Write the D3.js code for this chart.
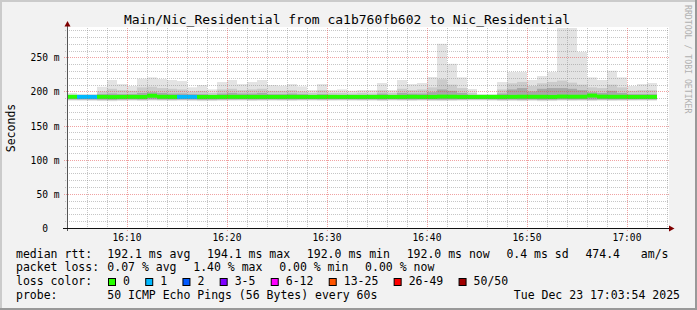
<!DOCTYPE html>
<html>
<head>
<meta charset="utf-8">
<script src="https://cdn.jsdelivr.net/npm/d3@7"></script>
<style>
body { margin: 0; background: #f2f2f2; }
svg text { font-family: "DejaVu Sans Mono", monospace; white-space: pre; }
</style>
</head>
<body>
<div id="chart"></div>
<script>
var title = "Main/Nic_Residential from ca1b760fb602 to Nic_Residential";
var startTime = new Date(2025, 11, 23, 16, 4, 0);
var endTime = new Date(2025, 11, 23, 17, 4, 0);

// one bin per minute, ms
var rttMax = [197.7,196.3,196.3,206.9,216.8,210.9,208.0,218.7,220.7,218.2,
  216.8,215.3,206.1,209.4,203.1,213.8,216.8,210.9,213.8,216.8,
  209.4,208.4,210.9,207.5,202.1,210.9,202.1,203.1,201.1,202.1,
  202.1,212.4,202.1,216.8,210.9,212.4,221.2,269.9,240.6,220.7,
  203.6,196.3,196.3,213.8,228.5,228.5,216.8,222.6,228.5,300.0,
  300.0,257.8,220.7,216.8,230.4,220.7,208.0,210.9,212.4];
var rttP90 = [195,195,195,200,204,202,201,206,207,205,
  204,203,200,201,198,203,204,202,203,204,
  201,201,202,200,198,202,198,198,197,198,
  197,202,198,204,202,203,206,218,210,205,
  198,195,195,203,212,214,208,212,214,216,
  213,210,206,205,210,206,201,202,202];
var rttP75 = [194,194,194,196,197,196,196,198,199,198,
  197,197,196,196,195,197,198,197,197,198,
  196,196,197,196,195,196,195,195,195,195,
  195,197,195,198,197,197,199,203,201,198,
  195,194,194,197,203,205,200,204,205,205,
  204,202,199,198,201,198,196,196,196];
var rttMedian = [192.2,192.0,192.0,192.1,191.8,192.0,192.1,192.0,193.8,192.2,
  192.0,192.0,192.0,191.9,192.0,192.0,192.1,192.0,192.0,192.0,
  192.0,192.0,192.1,192.0,192.0,192.0,192.1,192.0,192.0,192.0,
  192.0,192.0,192.0,192.0,192.2,192.0,192.0,192.4,192.3,192.0,
  192.0,192.0,192.0,192.0,192.1,192.3,192.2,192.2,192.0,192.5,
  192.3,192.3,194.0,192.4,192.2,192.2,192.0,192.0,192.0];
var rttP25 = [188.6,188.5,188.3,188.0,187.8,188.2,188.4,188.1,188.6,188.3,
  188.2,188.4,188.3,187.9,188.0,188.3,188.4,188.5,188.2,188.3,
  188.4,188.3,188.2,188.4,188.5,188.3,188.4,188.5,188.4,188.3,
  188.4,188.0,188.5,188.3,188.2,188.4,188.1,188.0,188.2,188.4,
  188.6,188.6,188.4,188.0,188.2,187.9,188.3,187.8,188.0,188.4,
  188.2,188.3,188.1,188.4,188.2,188.3,188.4,188.5,188.4];
var rttP10 = [187.6,187.5,187.4,187.0,186.9,187.3,187.5,187.2,187.6,187.4,
  187.3,187.5,187.3,187.0,187.1,187.4,187.5,187.6,187.2,187.4,
  187.5,187.4,187.3,187.5,187.6,187.4,187.5,187.6,187.5,187.4,
  187.5,187.1,187.6,187.4,187.3,187.5,187.2,187.1,187.3,187.5,
  187.7,187.7,187.5,187.1,187.3,187.0,187.4,186.9,187.1,187.5,
  187.3,187.4,187.2,187.5,187.3,187.4,187.5,187.6,187.5];
var rttMin = [186.5,186.4,186.3,186.0,185.8,186.2,186.4,186.1,186.5,186.3,
  186.2,186.4,186.2,185.9,186.0,186.3,186.4,186.5,186.1,186.3,
  186.4,186.3,186.2,186.4,186.5,186.3,186.4,186.5,186.4,186.3,
  186.4,186.0,186.5,186.3,186.2,186.4,186.1,186.0,186.2,186.4,
  186.6,186.6,186.4,186.0,186.2,185.9,186.3,185.8,186.0,186.4,
  186.2,186.3,186.1,186.4,186.2,186.3,186.4,186.5,186.4];
// index into lossLabels per bin
var lossBin = [0,1,1,0,0,0,0,0,0,0,0,1,1,0,0,0,0,0,0,0,
  0,0,0,0,0,0,0,0,0,0,0,0,0,0,0,0,0,0,0,0,
  0,0,0,0,0,0,0,0,0,0,0,0,0,0,0,0,0,0,0];

var lossLabels = ["0", "1", "2", "3-5", "6-12", "13-25", "26-49", "50/50"];
var lossColors = ["#26ff00", "#00b8ff", "#0059ff", "#7e00ff", "#ff00ff", "#ff5500", "#ff0000", "#a00000"];
var yTicks = [0, 50, 100, 150, 200, 250];
var rttLegend = ["192.1 ms avg", "194.1 ms max", "192.0 ms min", "192.0 ms now", "0.4 ms sd", "474.4   am/s"];
var lossLegend = ["0.07 % avg", "1.40 % max", "0.00 % min", "0.00 % now"];
var probeText = "50 ICMP Echo Pings (56 Bytes) every 60s";
var dateText = "Tue Dec 23 17:03:54 2025";

var width = 697, height = 310,
    pL = 67, pR = 667, pT = 28, pB = 228,
    cw = 11.5 * 0.602;

var svg = d3.select("#chart").append("svg")
  .attr("width", width)
  .attr("height", height);

svg.append("rect").attr("width", width).attr("height", height).attr("fill", "#f2f2f2");
svg.append("path").attr("d", "M1,309V1H697").attr("stroke", "#cbcbcb").attr("stroke-width", 2).attr("fill", "none");
svg.append("path").attr("d", "M0,309H696V0").attr("stroke", "#999").attr("stroke-width", 2).attr("fill", "none");

svg.append("rect").attr("x", pL).attr("y", pT - 1).attr("width", pR - pL + 2).attr("height", pB - pT + 1).attr("fill", "#fff");

var x = d3.scaleTime().domain([startTime, endTime]).range([pL, pR]);
var y = d3.scaleLinear().domain([0, 293]).range([pB, pT]).clamp(true);

var bins = d3.range(rttMax.length);
var binX = function(i) { return x(d3.timeMinute.offset(startTime, i)); };

// smoke
var bands = [[rttMin, rttMax, "#e3e3e3"], [rttP10, rttP90, "#cbcbcb"], [rttP25, rttP75, "#a8a8a8"]];
bands.forEach(function(b) {
  svg.append("g").selectAll("rect").data(bins).join("rect")
    .attr("x", function(i) { return binX(i); })
    .attr("width", function(i) { return binX(i + 1) - binX(i); })
    .attr("y", function(i) { return y(b[1][i]); })
    .attr("height", function(i) { return y(b[0][i]) - y(b[1][i]); })
    .attr("fill", b[2]);
});

// median, coloured by loss
svg.append("g").selectAll("rect").data(bins).join("rect")
  .attr("x", function(i) { return binX(i); })
  .attr("width", function(i) { return binX(i + 1) - binX(i); })
  .attr("y", function(i) { return y(rttMedian[i]) - 2; })
  .attr("height", 4)
  .attr("fill", function(i) { return lossColors[lossBin[i]]; });

// grid
var grid = svg.append("g").attr("fill", "none").attr("stroke-dasharray", "1,1");
var minorY = d3.range(10, 293, 10).filter(function(v) { return v % 50 != 0; });
grid.selectAll(".hmin").data(minorY).join("line")
  .attr("x1", pL - 2).attr("x2", pR + 2)
  .attr("y1", function(v) { return Math.round(y(v)) + 0.5; })
  .attr("y2", function(v) { return Math.round(y(v)) + 0.5; })
  .attr("stroke", "rgba(128,128,128,0.45)");
var minorX = x.ticks(d3.timeMinute.every(2)).filter(function(t) { return t.getMinutes() % 10 != 0; });
grid.selectAll(".vmin").data(minorX).join("line")
  .attr("x1", function(t) { return Math.round(x(t)) + 0.5; })
  .attr("x2", function(t) { return Math.round(x(t)) + 0.5; })
  .attr("y1", pT).attr("y2", pB + 2)
  .attr("stroke", "rgba(128,128,128,0.45)");
grid.selectAll(".hmaj").data(yTicks.slice(1)).join("line")
  .attr("x1", pL - 3).attr("x2", pR + 2)
  .attr("y1", function(v) { return Math.round(y(v)) + 0.5; })
  .attr("y2", function(v) { return Math.round(y(v)) + 0.5; })
  .attr("stroke", "rgba(225,70,70,0.5)");
var majorX = x.ticks(d3.timeMinute.every(10));
grid.selectAll(".vmaj").data(majorX).join("line")
  .attr("x1", function(t) { return Math.round(x(t)) + 0.5; })
  .attr("x2", function(t) { return Math.round(x(t)) + 0.5; })
  .attr("y1", pT).attr("y2", pB + 3)
  .attr("stroke", "rgba(225,70,70,0.5)");

// axes
svg.append("line").attr("x1", pL + 0.5).attr("x2", pL + 0.5).attr("y1", pB + 3).attr("y2", 25)
  .attr("stroke", "#555");
svg.append("line").attr("x1", pL - 4).attr("x2", pR + 3).attr("y1", pB + 0.5).attr("y2", pB + 0.5)
  .attr("stroke", "#111");
svg.append("path").attr("d", "M64.5,26.5L67.5,21L70.5,26.5Z").attr("fill", "#7f0000");
svg.append("path").attr("d", "M669,225.5L674.5,228.5L669,231.5Z").attr("fill", "#7f0000");

svg.append("g").selectAll("text").data(majorX).join("text")
  .attr("x", function(t) { return x(t); })
  .attr("y", 241)
  .attr("text-anchor", "middle")
  .attr("font-size", "9.6px")
  .text(d3.timeFormat("%H:%M"));

svg.append("g").selectAll("text").data(yTicks).join("text")
  .attr("x", 59.5)
  .attr("y", function(v) { return Math.round(y(v)) + 3.5; })
  .attr("text-anchor", "end")
  .attr("font-size", "9.6px")
  .text(function(v) { return v == 0 ? "0\u00a0\u00a0" : v + " m"; });

svg.append("text")
  .attr("transform", "translate(15," + (pT + pB) / 2 + ") rotate(-90)")
  .attr("text-anchor", "middle")
  .attr("font-size", "11.5px")
  .text("Seconds");

svg.append("text")
  .attr("transform", "translate(685,5) rotate(90)")
  .attr("font-size", "8.2px")
  .attr("fill", "#b0b0b0")
  .text("RRDTOOL / TOBI OETIKER");

svg.append("text")
  .attr("x", 347).attr("y", 23.5)
  .attr("text-anchor", "middle")
  .attr("font-size", "13px")
  .text(title);

// legend
var lg = svg.append("g").attr("font-size", "11.5px");
var rows = [257.5, 271.3, 285.1, 298.9];
lg.append("text").attr("x", 16).attr("y", rows[0]).text("median rtt:");
lg.append("text").attr("x", 16).attr("y", rows[1]).text("packet loss:");
lg.append("text").attr("x", 16).attr("y", rows[2]).text("loss color:");
lg.append("text").attr("x", 16).attr("y", rows[3]).text("probe:");

var cx = 107.3;
rttLegend.forEach(function(s) {
  lg.append("text").attr("x", cx).attr("y", rows[0]).text(s);
  cx += s.length * cw + 16.7;
});
cx = 107.3;
lossLegend.forEach(function(s) {
  lg.append("text").attr("x", cx).attr("y", rows[1]).text(s);
  cx += s.length * cw + 16.7;
});
cx = 108;
lossLabels.forEach(function(s, i) {
  lg.append("rect").attr("x", cx + 0.5).attr("y", 278.5).attr("width", 7).attr("height", 7)
    .attr("fill", lossColors[i]).attr("stroke", "#000");
  lg.append("text").attr("x", cx + 15).attr("y", rows[2]).text(s);
  cx += 15 + s.length * cw + 15.3;
});
lg.append("text").attr("x", 107.3).attr("y", rows[3]).text(probeText);
lg.append("text").attr("x", 680).attr("y", rows[3]).attr("text-anchor", "end").text(dateText);
</script>
</body>
</html>
